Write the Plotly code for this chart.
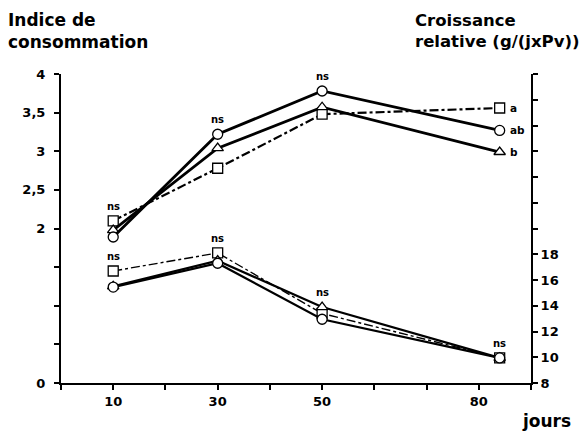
import plotly.graph_objects as go

# ---- data ----
days = [10, 30, 50, 84]
x_tick_vals = [0, 10, 20, 30, 40, 50, 60, 70, 80, 90]
x_tick_text = ["", "10", "", "30", "", "50", "", "", "80", ""]

# Indice de consommation (left axis)
ic_square = [2.10, 2.78, 3.48, 3.56]
ic_circle = [1.89, 3.22, 3.78, 3.27]
ic_triangle = [1.98, 3.04, 3.57, 2.99]
ic_letters = ["a", "ab", "b"]

# Croissance relative (right axis)
cr_square = [16.7, 18.1, 13.4, 9.95]
cr_circle = [15.45, 17.3, 12.95, 9.95]
cr_triangle = [15.5, 17.5, 13.9, 9.95]

y1_tick_vals = [0, 0.5, 1, 1.5, 2, 2.5, 3, 3.5, 4]
y1_tick_text = ["0", "", "", "", "2", "2,5", "3", "3,5", "4"]
y2_tick_vals = list(range(8, 33, 2))
y2_tick_text = ["8", "10", "12", "14", "16", "18"] + [""] * 7

FONT = "DejaVu Sans, sans-serif"

fig = go.Figure()

def add(y, symbol, dash, width, yaxis):
    fig.add_trace(go.Scatter(
        x=days, y=y, yaxis=yaxis, mode="lines+markers",
        line=dict(color="black", width=width, dash=dash),
        marker=dict(symbol=symbol, size=10, color="white",
                    line=dict(color="black", width=1.3)),
        showlegend=False, cliponaxis=False))

add(ic_square, "square", "dashdot", 2.2, "y")
add(ic_triangle, "triangle-up", "solid", 2.8, "y")
add(ic_circle, "circle", "solid", 2.8, "y")
add(cr_square, "square", "dashdot", 1.4, "y2")
add(cr_triangle, "triangle-up", "solid", 2.2, "y2")
add(cr_circle, "circle", "solid", 2.2, "y2")

def txt(x, y, t, yref="y", size=10, xanchor="center", yanchor="middle", xshift=0, yshift=0):
    fig.add_annotation(x=x, y=y, xref="x", yref=yref, text=t, showarrow=False,
                       font=dict(family=FONT, size=size, color="black", weight="bold"),
                       xanchor=xanchor, yanchor=yanchor, xshift=xshift, yshift=yshift)

# ns labels (top group)
txt(days[0], ic_square[0], "ns", yanchor="bottom", yshift=7)
txt(days[1], ic_circle[1], "ns", yanchor="bottom", yshift=7)
txt(days[2], ic_circle[2], "ns", yanchor="bottom", yshift=7)
# letters at last point
for v, l in zip([ic_square[3], ic_circle[3], ic_triangle[3]], ic_letters):
    txt(days[3], v, l, size=10.5, xanchor="left", xshift=8)
# ns labels (bottom group)
txt(days[0], cr_square[0], "ns", yref="y2", yanchor="bottom", yshift=7)
txt(days[1], cr_square[1], "ns", yref="y2", yanchor="bottom", yshift=7)
txt(days[2], cr_triangle[2], "ns", yref="y2", yanchor="bottom", yshift=7)
txt(days[3], cr_square[3], "ns", yref="y2", yanchor="bottom", yshift=7)

# titles
title_font = dict(family=FONT, size=17, color="black", weight="bold")
fig.add_annotation(x=-0.118, y=1.215, xref="paper", yref="paper",
                   text="Indice de<br>consommation", showarrow=False, align="left",
                   xanchor="left", yanchor="top", font=title_font)
fig.add_annotation(x=0.748, y=1.21, xref="paper", yref="paper",
                   text="Croissance<br>relative (g/(jxPv))", showarrow=False, align="left",
                   xanchor="left", yanchor="top",
                   font=dict(family=FONT, size=16.5, color="black", weight="bold"))
fig.add_annotation(x=0.976, y=-0.123, xref="paper", yref="paper",
                   text="jours", showarrow=False, xanchor="left", yanchor="middle",
                   font=title_font)

axis_font = dict(family=FONT, size=13, color="black", weight="bold")
common = dict(showgrid=False, zeroline=False, showline=True, linecolor="black",
              linewidth=2, ticks="outside", ticklen=5, tickwidth=2, tickcolor="black",
              tickfont=axis_font, automargin=False)
fig.update_layout(
    width=582, height=434,
    margin=dict(l=61, r=51, t=74, b=51),
    paper_bgcolor="white", plot_bgcolor="white",
    xaxis=dict(range=[0, 90], tickvals=x_tick_vals, ticktext=x_tick_text, **common),
    yaxis=dict(range=[0, 4], tickvals=y1_tick_vals, ticktext=y1_tick_text,
               ticklabelstandoff=6, **common),
    yaxis2=dict(range=[8, 32], tickvals=y2_tick_vals, ticktext=y2_tick_text,
                overlaying="y", side="right", **common),
)

fig.write_html("out.html", config={"displayModeBar": False},
               post_script="document.body.style.margin='0';document.body.style.padding='0';")
